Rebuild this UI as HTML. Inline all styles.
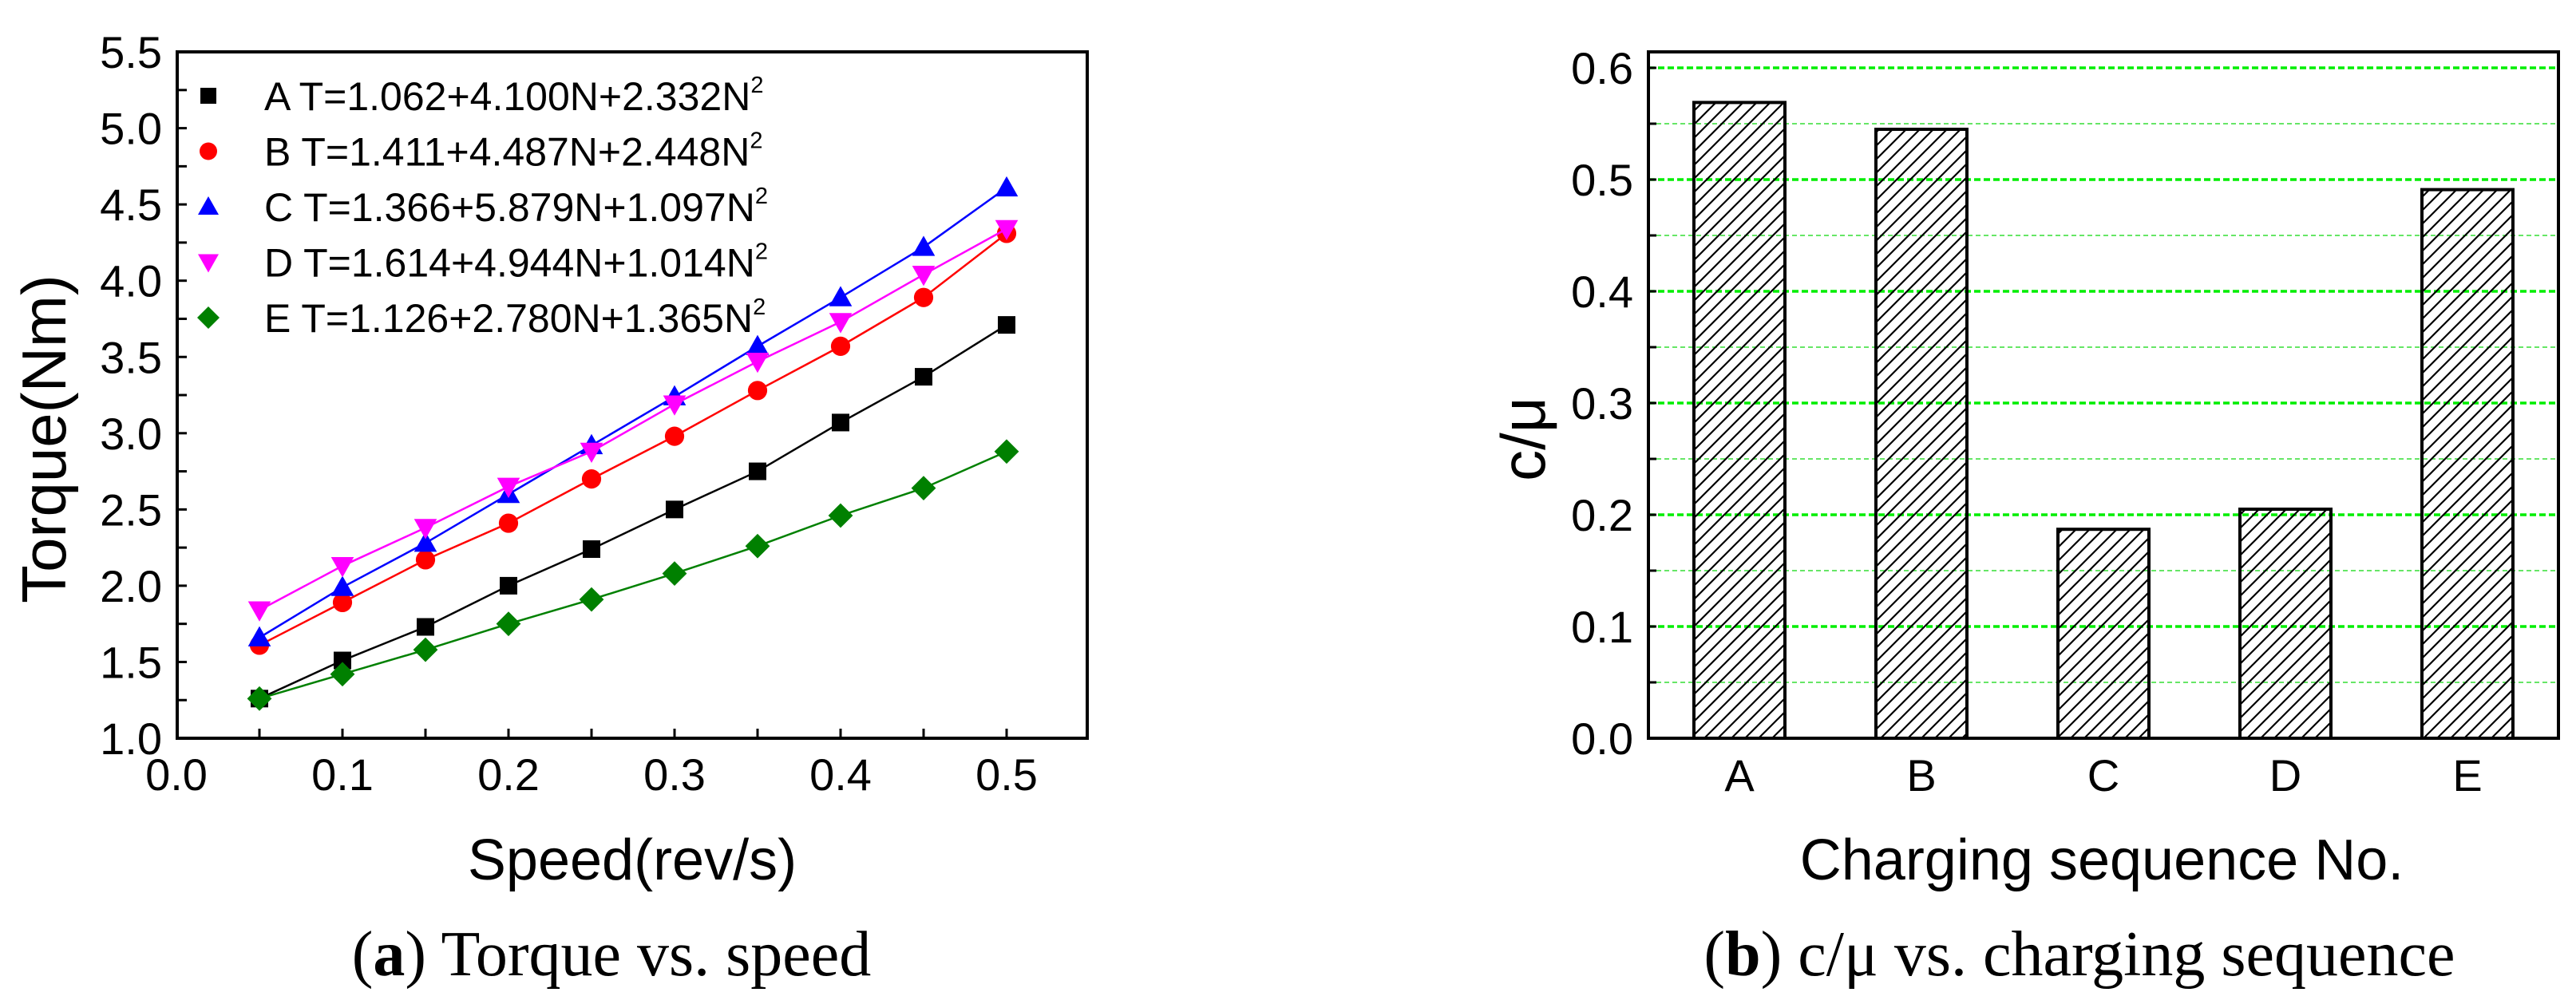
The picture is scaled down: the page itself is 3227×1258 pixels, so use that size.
<!DOCTYPE html>
<html><head><meta charset="utf-8"><style>
html,body{margin:0;padding:0;background:#fff;}
svg{display:block;font-family:"Liberation Sans",Arial,sans-serif;}
.serif{font-family:"Liberation Serif","Times New Roman",serif;}
</style></head><body>
<svg id="fig" width="3227" height="1258" viewBox="0 0 3227 1258" xmlns="http://www.w3.org/2000/svg">
<defs>
<pattern id="hatch" patternUnits="userSpaceOnUse" width="17" height="17">
<path d="M-2,19 L19,-2 M-2,2 L2,-2 M15,19 L19,15" stroke="#000" stroke-width="2.2"/>
</pattern>
</defs>
<g id="left"></g>
<g id="right"></g>
</svg>
<script>
const speeds=[0.05,0.1,0.15,0.2,0.25,0.3,0.35,0.4,0.45,0.5];
const seriesA=[1.26,1.51,1.73,2.0,2.24,2.50,2.75,3.07,3.37,3.71];
const seriesB=[1.61,1.89,2.17,2.41,2.70,2.98,3.28,3.57,3.89,4.31];
const seriesC=[1.66,1.99,2.28,2.60,2.92,3.24,3.57,3.89,4.22,4.61];
const seriesD=[1.84,2.13,2.38,2.65,2.88,3.19,3.47,3.73,4.04,4.34];
const seriesE=[1.26,1.42,1.58,1.75,1.91,2.08,2.26,2.46,2.64,2.88];
const legendLabels=["A T=1.062+4.100N+2.332N","B T=1.411+4.487N+2.448N","C T=1.366+5.879N+1.097N","D T=1.614+4.944N+1.014N","E T=1.126+2.780N+1.365N"];
const xTickLabels=["0.0","0.1","0.2","0.3","0.4","0.5"];
const yTickLabels=["1.0","1.5","2.0","2.5","3.0","3.5","4.0","4.5","5.0","5.5"];
const categories=["A","B","C","D","E"];
const ratios=[0.569,0.545,0.187,0.205,0.491];
const barTickLabels=["0.0","0.1","0.2","0.3","0.4","0.5","0.6"];

const NS="http://www.w3.org/2000/svg";
function mk(parent,tag,attrs,text){const e=document.createElementNS(NS,tag);for(const k in attrs)e.setAttribute(k,attrs[k]);if(text!==undefined)e.textContent=text;parent.appendChild(e);return e;}

// ---------- left chart ----------
const L=document.getElementById('left');
const lx=v=>221+v*2080, ly=v=>925-(v-1)*191.1;
const L0=222,R0=1362,T0=65,B0=925;
let e;
e=mk(L,'rect',{x:L0,y:T0,width:R0-L0,height:B0-T0,fill:'none',stroke:'#000','stroke-width':4});

for(let i=1;i<=10;i++){const v=i*0.05;e=mk(L,'line',{x1:lx(v),x2:lx(v),y1:B0,y2:B0-12,stroke:'#000','stroke-width':3});
}
for(let i=1;i<18;i++){const v=1+i*0.25;e=mk(L,'line',{x1:L0,x2:L0+12,y1:ly(v),y2:ly(v),stroke:'#000','stroke-width':3});
}
xTickLabels.forEach((t,i)=>{e=mk(L,'text',{x:lx(i*0.1),y:990,'font-size':56,'text-anchor':'middle'},t);
});
yTickLabels.forEach((t,i)=>{e=mk(L,'text',{x:203,y:ly(1+i*0.5)+20,'font-size':56,'text-anchor':'end'},t);
});
e=mk(L,'text',{x:0,y:0,'font-size':78,'text-anchor':'middle',transform:'translate(82,550) rotate(-90)'},'Torque(Nm)');

e=mk(L,'text',{x:792,y:1102,'font-size':72,'text-anchor':'middle'},'Speed(rev/s)');

e=mk(L,'text',{x:766,y:1222,'font-size':80,'text-anchor':'middle','class':'serif'});

e.innerHTML='(<tspan font-weight="bold">a</tspan>) Torque vs. speed';

function marker(g,type,cx,cy,color,s){
  let m;
  if(type==='sq') m=mk(g,'rect',{x:cx-s,y:cy-s,width:2*s,height:2*s,fill:color});
  else if(type==='ci') m=mk(g,'circle',{cx:cx,cy:cy,r:s*1.1,fill:color});
  else if(type==='up') m=mk(g,'polygon',{points:`${cx},${cy-s*1.3} ${cx+s*1.3},${cy+s} ${cx-s*1.3},${cy+s}`,fill:color});
  else if(type==='dn') m=mk(g,'polygon',{points:`${cx},${cy+s*1.3} ${cx+s*1.3},${cy-s} ${cx-s*1.3},${cy-s}`,fill:color});
  else m=mk(g,'polygon',{points:`${cx},${cy-s*1.4} ${cx+s*1.4},${cy} ${cx},${cy+s*1.4} ${cx-s*1.4},${cy}`,fill:color});
  return m;
}
const series=[[seriesA,'#000','sq','series-a'],[seriesB,'#ff0000','ci','series-b'],[seriesC,'#0000ff','up','series-c'],[seriesD,'#ff00ff','dn','series-d'],[seriesE,'#008000','di','series-e']];
series.forEach(([vals,col,type,name])=>{
  const g=mk(L,'g',{});
  
  const pts=vals.map((v,i)=>lx(speeds[i])+','+ly(v)).join(' ');
  e=mk(g,'polyline',{points:pts,fill:'none',stroke:col,'stroke-width':2.5});
  
  vals.forEach((v,i)=>{e=marker(g,type,lx(speeds[i]),ly(v),col,11);
  });
});
const lg=mk(L,'g',{});

series.forEach(([vals,col,type,name],i)=>{
  const y=120+i*69.5;
  e=marker(lg,type,261,y,col,10);
  
  e=mk(lg,'text',{x:331,y:y+18,'font-size':50});
  
  e.innerHTML=legendLabels[i]+'<tspan font-size="29" dy="-22">2</tspan>';
});

// ---------- right chart ----------
const R=document.getElementById('right');
const bx=c=>2065+(c-0.5)*228, by=v=>925-v*1400;
const L1=2065,R1=3205,T1=65,B1=925;
for(let i=1;i<=12;i++){const v=i*0.05;const major=i%2===0;
  e=mk(R,'line',{x1:L1,x2:R1,y1:by(v),y2:by(v),stroke:major?'#00ee00':'#33dd33','stroke-width':major?3.5:1.5,'stroke-dasharray':major?'8,4':'6,4'});
  
  e=mk(R,'line',{x1:L1,x2:L1+10,y1:by(v),y2:by(v),stroke:'#000','stroke-width':3});
  
}
ratios.forEach((v,i)=>{
  e=mk(R,'rect',{x:bx(i+1)-57,y:by(v),width:114,height:by(0)-by(v),fill:'url(#hatch)',stroke:'#000','stroke-width':4});
  
  e=mk(R,'text',{x:bx(i+1),y:991,'font-size':56,'text-anchor':'middle'},categories[i]);
  
});
e=mk(R,'rect',{x:L1,y:T1,width:R1-L1,height:B1-T1,fill:'none',stroke:'#000','stroke-width':4});

barTickLabels.forEach((t,i)=>{e=mk(R,'text',{x:2046,y:by(i*0.1)+20,'font-size':56,'text-anchor':'end'},t);
});
e=mk(R,'text',{x:0,y:0,'font-size':78,'text-anchor':'middle',transform:'translate(1935,550) rotate(-90)'},'c/μ');

e=mk(R,'text',{x:2633,y:1102,'font-size':72,'text-anchor':'middle'},'Charging sequence No.');

e=mk(R,'text',{x:2605,y:1222,'font-size':80,'text-anchor':'middle','class':'serif'});

e.innerHTML='(<tspan font-weight="bold">b</tspan>) c/μ vs. charging sequence';
</script>
</body></html>
